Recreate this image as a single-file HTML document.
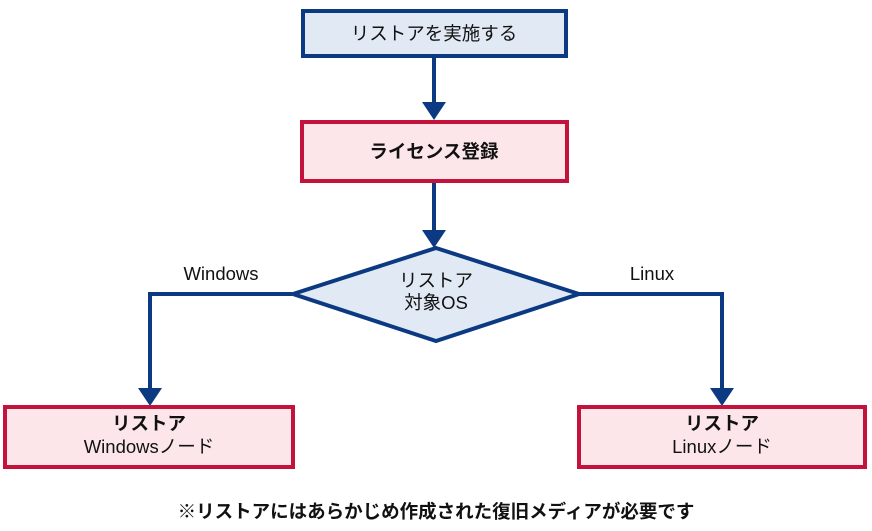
<!DOCTYPE html>
<html><head><meta charset="utf-8"><style>
html,body{margin:0;padding:0;background:#fff;}
svg{display:block;}
text{font-family:"Liberation Sans","Noto Sans CJK JP",sans-serif;fill:#111;}
</style></head><body>
<svg width="872" height="531" viewBox="0 0 872 531" xmlns="http://www.w3.org/2000/svg">
<g stroke="#0b3a82" stroke-width="4" fill="none">
<line x1="434" y1="57" x2="434" y2="104"/>
<line x1="434" y1="182" x2="434" y2="232"/>
<polyline points="292,294 150,294 150,390"/>
<polyline points="579,294 722,294 722,390"/>
</g>
<g fill="#0b3a82">
<polygon points="422,102 446,102 434,120"/>
<polygon points="422,230 446,230 434,248"/>
<polygon points="138,388 162,388 150,406"/>
<polygon points="710,388 734,388 722,406"/>
</g>
<rect x="303" y="11" width="263" height="45" fill="#e1e9f4" stroke="#0b3a82" stroke-width="4"/>
<rect x="302" y="122" width="265" height="59" fill="#fde6ea" stroke="#c3123c" stroke-width="4"/>
<polygon points="436,248 579,294 436,341 293,294" fill="#e1e9f4" stroke="#0b3a82" stroke-width="4"/>
<rect x="5" y="407" width="288" height="60" fill="#fde6ea" stroke="#c3123c" stroke-width="4"/>
<rect x="579" y="407" width="286" height="60" fill="#fde6ea" stroke="#c3123c" stroke-width="4"/>
<g font-size="18.5" text-anchor="middle">
<text x="434" y="40">リストアを実施する</text>
<text x="434" y="158" font-weight="bold">ライセンス登録</text>
<text x="436" y="287">リストア</text>
<text x="436" y="309">対象OS</text>
<text x="221" y="280">Windows</text>
<text x="652" y="280">Linux</text>
<text x="149" y="430" font-weight="bold">リストア</text>
<text x="149" y="453">Windowsノード</text>
<text x="722" y="430" font-weight="bold">リストア</text>
<text x="722" y="453">Linuxノード</text>
<text x="436" y="518" font-weight="bold">※リストアにはあらかじめ作成された復旧メディアが必要です</text>
</g>
</svg>
</body></html>
